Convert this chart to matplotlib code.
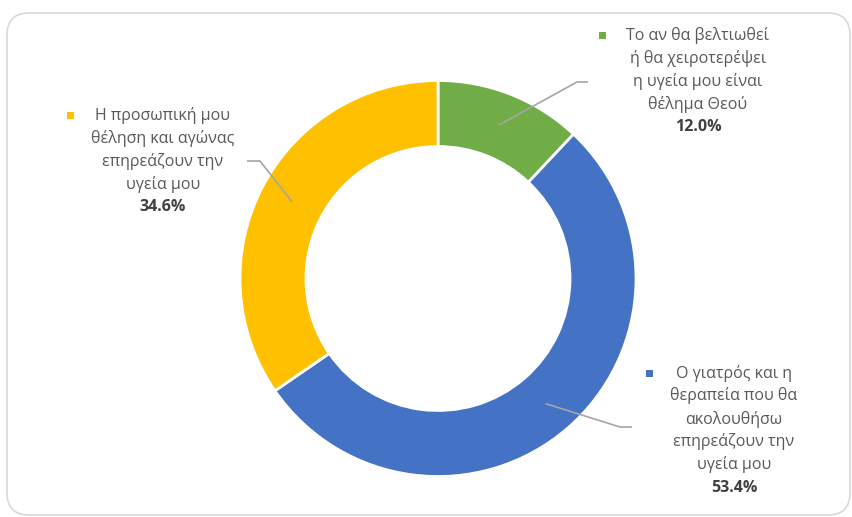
import matplotlib
matplotlib.use("Agg")
import matplotlib.pyplot as plt
import numpy as np
from matplotlib.patches import FancyBboxPatch, Rectangle

plt.rcParams['font.family'] = ['Open Sans', 'DejaVu Sans']

# data
labels = [
    ["Το αν θα βελτιωθεί", "ή θα χειροτερέψει", "η υγεία μου είναι", "θέλημα Θεού"],
    ["Ο γιατρός και η", "θεραπεία που θα", "ακολουθήσω", "επηρεάζουν την", "υγεία μου"],
    ["Η προσωπική μου", "θέληση και αγώνας", "επηρεάζουν την", "υγεία μου"],
]
values = [12.0, 53.4, 34.6]
colors = ["#70AD47", "#4472C4", "#FFC000"]

W, H = 853, 517
fig = plt.figure(figsize=(W / 100, H / 100), dpi=100)
ax = fig.add_axes([0, 0, 1, 1])

cx, cy = 438, H - 278.5
r_out, ring = 198, 66

wedges, _ = ax.pie(values, colors=colors, startangle=90, counterclock=False,
                   radius=r_out, center=(cx, cy),
                   wedgeprops=dict(width=ring, edgecolor="white", linewidth=2))

# chart border
ax.add_patch(FancyBboxPatch((7, H - 515), 843, 502,
                            boxstyle="round,pad=0,rounding_size=22",
                            fc="none", ec="#D9D9D9", lw=1.2))

# label placement (pixel coords from top-left): text center x, first line y, marker x, leader elbow, leader end
lab_pos = [
    dict(tx=698, ty=35, mx=603, elbow=(577, 82), end=(588, 82)),
    dict(tx=734, ty=373, mx=650, elbow=(620, 427), end=(632, 427)),
    dict(tx=163, ty=115, mx=71, elbow=(260, 161), end=(247, 161)),
]
line_h = 23

ang = 90.0
for v, lines, c, p in zip(values, labels, colors, lab_pos):
    mid = np.deg2rad(ang - v / 100 * 360 / 2)
    ang -= v / 100 * 360
    r_mid = r_out - ring / 2
    sx, sy = cx + r_mid * np.cos(mid), cy + r_mid * np.sin(mid)
    ex, ey = p["elbow"]
    fx, fy = p["end"]
    ax.plot([sx, ex, fx], [sy, H - ey, H - fy], color="#A6A6A6", lw=1.2,
            solid_capstyle="butt")
    for i, t in enumerate(lines):
        ax.text(p["tx"], H - (p["ty"] + i * line_h), t, ha="center", va="center",
                fontsize=11.5, color="#595959")
    ax.text(p["tx"], H - (p["ty"] + len(lines) * line_h), f"{v:.1f}%",
            ha="center", va="center", fontsize=11.5, color="#404040", fontweight="bold")
    ax.add_patch(Rectangle((p["mx"] - 3.5, H - p["ty"] - 3.5), 7, 7, fc=c, ec="none"))

ax.set_xlim(0, W)
ax.set_ylim(0, H)
ax.set_aspect("equal")
ax.axis("off")

fig.savefig("out.png", dpi=100, facecolor="white")
